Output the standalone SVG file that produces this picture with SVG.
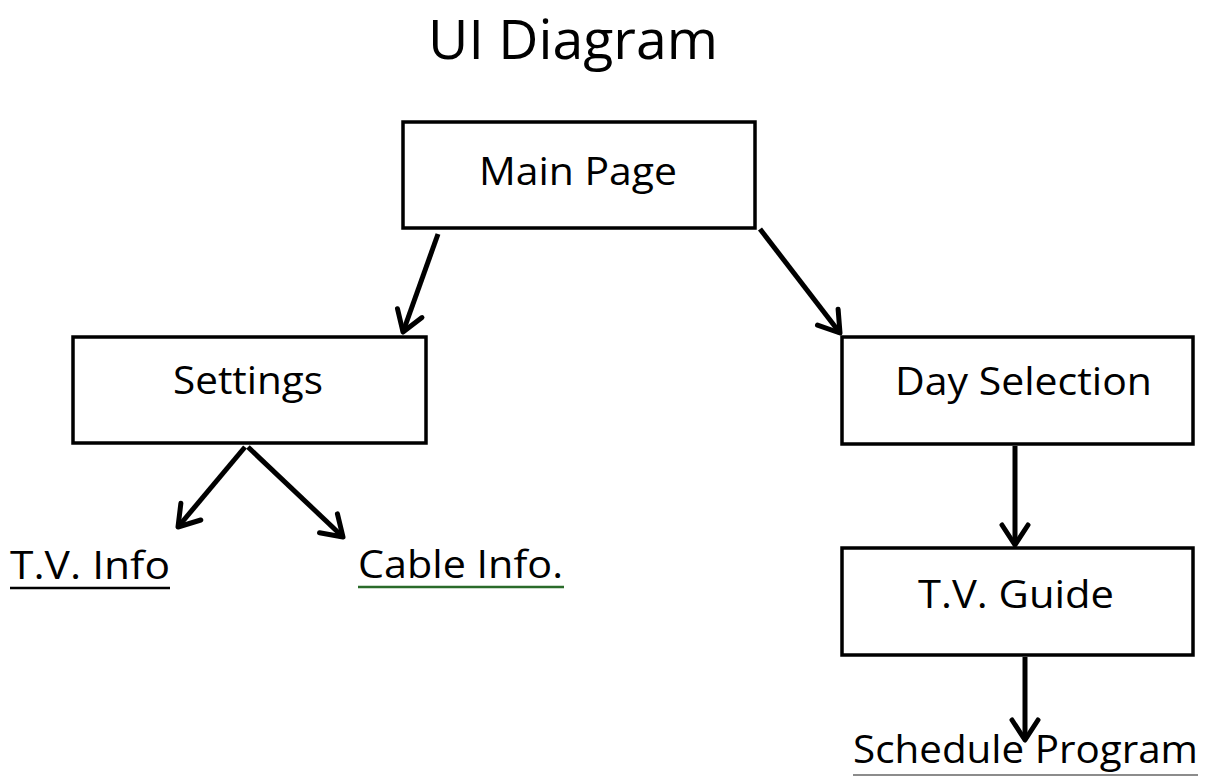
<svg xmlns="http://www.w3.org/2000/svg" width="1209" height="776" viewBox="0 0 1209 776">
<style>
.box{fill:#fff;stroke:#000;stroke-width:3.5}
.lbl{font-family:"Open Sans","Liberation Sans",sans-serif;font-size:39px;fill:#000}
.title{font-family:"Open Sans","Liberation Sans",sans-serif;font-size:55px;fill:#000}
.conn{stroke:#000;stroke-width:5;fill:none;marker-end:url(#arr)}
</style>
<defs>
<marker id="arr" viewBox="0 0 28 34" refX="24" refY="17" markerWidth="28" markerHeight="34" markerUnits="userSpaceOnUse" orient="auto">
<path d="M4,4 L24,17 L4,30" fill="none" stroke="#000" stroke-width="5" stroke-linecap="round" stroke-linejoin="round"/>
</marker>
</defs>
<rect width="1209" height="776" fill="#fff"/>
<text class="title" x="428" y="59" textLength="290" lengthAdjust="spacingAndGlyphs">UI Diagram</text>
<g id="connectors">
<line class="conn" x1="438" y1="234" x2="403" y2="332"/>
<line class="conn" x1="760" y1="229" x2="840" y2="333"/>
<line class="conn" x1="245" y1="447" x2="178" y2="527"/>
<line class="conn" x1="248" y1="447" x2="343" y2="537"/>
<line class="conn" x1="1015" y1="446" x2="1015" y2="545"/>
<line class="conn" x1="1025" y1="657" x2="1025" y2="740"/>
</g>
<g id="main-page">
<rect class="box" x="403" y="122" width="352" height="106"/>
<text class="lbl" x="479" y="185" textLength="198" lengthAdjust="spacingAndGlyphs">Main Page</text>
</g>
<g id="settings">
<rect class="box" x="73" y="337" width="353" height="106"/>
<text class="lbl" x="173" y="394" textLength="150" lengthAdjust="spacingAndGlyphs">Settings</text>
</g>
<g id="day-selection">
<rect class="box" x="842" y="337" width="351" height="107"/>
<text class="lbl" x="895" y="395" textLength="257" lengthAdjust="spacingAndGlyphs">Day Selection</text>
</g>
<g id="tv-guide">
<rect class="box" x="842" y="548" width="351" height="107"/>
<text class="lbl" x="918" y="608" textLength="196" lengthAdjust="spacingAndGlyphs">T.V. Guide</text>
</g>
<g id="tv-info">
<text class="lbl" x="10" y="579" textLength="160" lengthAdjust="spacingAndGlyphs">T.V. Info</text>
<line x1="10" y1="588" x2="170" y2="588" stroke="#000" stroke-width="2.5"/>
</g>
<g id="cable-info">
<text class="lbl" x="358" y="578" textLength="205" lengthAdjust="spacingAndGlyphs">Cable Info.</text>
<line x1="358" y1="587" x2="564" y2="587" stroke="#2a6b2a" stroke-width="2.5"/>
</g>
<g id="schedule-program">
<text class="lbl" x="853" y="763" textLength="345" lengthAdjust="spacingAndGlyphs">Schedule Program</text>
<line x1="853" y1="775" x2="1198" y2="775" stroke="#666" stroke-width="1.5"/>
</g>
</svg>
